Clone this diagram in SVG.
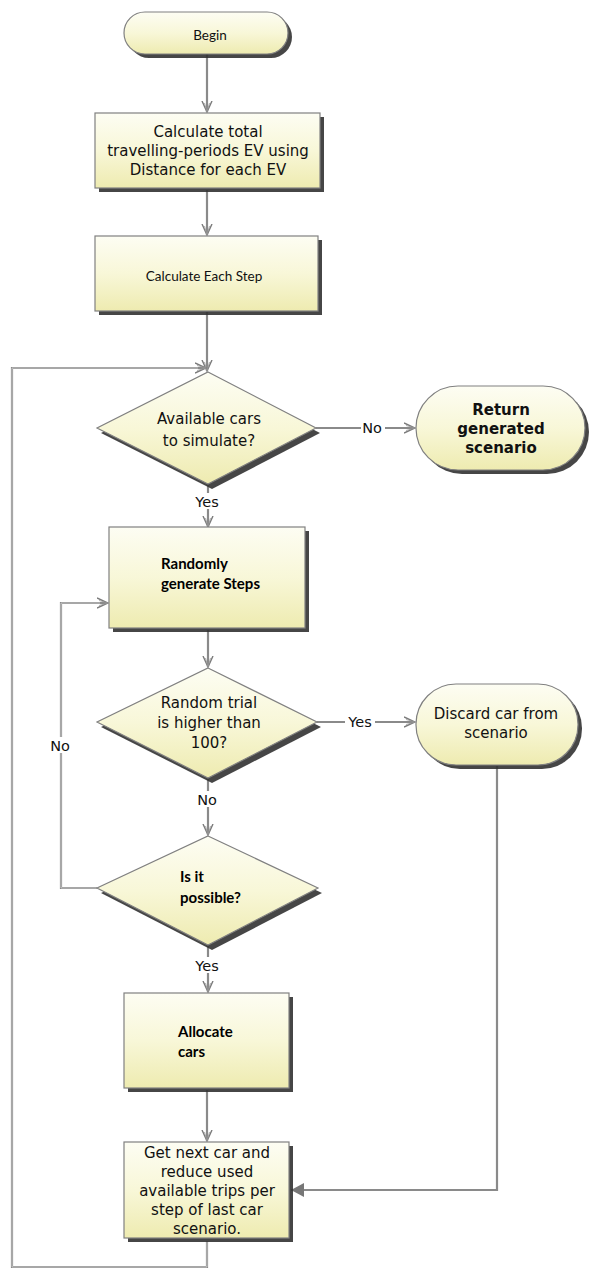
<svg xmlns="http://www.w3.org/2000/svg" width="597" height="1280" viewBox="0 0 597 1280">
<style>
.bg{fill:#ffffff}
.shape{fill:url(#fillg);stroke:#808080;stroke-width:1.2}
.shadow{fill:#333333;opacity:0.9;filter:url(#blur)}
.conn{fill:none;stroke:#8a8a8a;stroke-width:2.2}
.connw{fill:none;stroke:#dcdcdc;stroke-width:0.7}
.t{font-family:"DejaVu Sans",Verdana,sans-serif;font-size:15px;fill:#111;text-anchor:middle}
.tb{font-family:"DejaVu Sans",Verdana,sans-serif;font-size:15px;font-weight:bold;fill:#111;text-anchor:middle}
.c{font-family:Lato,"Open Sans",sans-serif;font-size:13.5px;fill:#111}
.cb{font-family:Lato,"Open Sans",sans-serif;font-size:15px;font-weight:bold;fill:#000}
.lbl{font-family:"DejaVu Sans",Verdana,sans-serif;font-size:14.5px;fill:#111;text-anchor:middle}
</style>
<defs>
<linearGradient id="fillg" x1="0" y1="0" x2="0" y2="1">
<stop offset="0" stop-color="#fdfdf3"/>
<stop offset="0.5" stop-color="#f8f7d8"/>
<stop offset="1" stop-color="#eeebb0"/>
</linearGradient>
<filter id="blur" x="-10%" y="-10%" width="120%" height="120%"><feGaussianBlur stdDeviation="0.6"/></filter>
<marker id="open" viewBox="0 0 12 12" refX="11" refY="6" markerWidth="12" markerHeight="12" markerUnits="userSpaceOnUse" orient="auto">
<path d="M0,1 L11,6 L0,11" fill="none" stroke="#7a7a7a" stroke-width="1.4"/>
<path d="M2,3.5 L11,6 L2,8.5" fill="none" stroke="#9a9a9a" stroke-width="0.8"/>
</marker>
<marker id="solid" viewBox="0 0 14 14" refX="13" refY="7" markerWidth="14" markerHeight="14" markerUnits="userSpaceOnUse" orient="auto">
<path d="M0,0 L13,7 L0,14 Z" fill="#777"/>
</marker>
</defs>
<rect class="bg" x="0" y="0" width="597" height="1280"/>

<g id="connectors">
<path class="conn" d="M207,54 V112" marker-end="url(#open)"/>
<path class="conn" d="M207,190 V235" marker-end="url(#open)"/>
<path class="conn" d="M207,312 V371" marker-end="url(#open)"/>
<path class="conn" d="M207,1241 V1267 H12 V368 H206" marker-end="url(#open)"/>
<path class="connw" d="M207,1241 V1267 H12 V368 H198"/>
<path class="conn" d="M316,428 H415" marker-end="url(#open)"/>
<path class="conn" d="M208,484 V527" marker-end="url(#open)"/>
<path class="conn" d="M208,630 V667" marker-end="url(#open)"/>
<path class="conn" d="M317,722 H415" marker-end="url(#open)"/>
<path class="conn" d="M208,778 V835" marker-end="url(#open)"/>
<path class="conn" d="M97,888 H61 V603 H108" marker-end="url(#open)"/>
<path class="connw" d="M97,888 H61 V603 H100"/>
<path class="conn" d="M208,945 V992" marker-end="url(#open)"/>
<path class="conn" d="M207,1090 V1141" marker-end="url(#open)"/>
<path class="conn" d="M497,766 V1190 H291" marker-end="url(#solid)"/>
<rect x="361" y="420" width="24" height="16" fill="#fff"/>
<text class="lbl" x="372" y="433">No</text>
<rect x="193" y="493" width="30" height="16" fill="#fff"/>
<text class="lbl" x="207" y="507">Yes</text>
<rect x="345" y="714" width="30" height="16" fill="#fff"/>
<text class="lbl" x="360" y="727">Yes</text>
<rect x="195" y="791" width="24" height="16" fill="#fff"/>
<text class="lbl" x="207" y="805">No</text>
<rect x="47" y="737" width="26" height="16" fill="#fff"/>
<text class="lbl" x="60" y="751">No</text>
<rect x="193" y="957" width="30" height="16" fill="#fff"/>
<text class="lbl" x="207" y="971">Yes</text>
</g>

<g id="begin">
<rect class="shadow" x="128" y="16" width="164" height="42" rx="21"/>
<rect class="shape" x="124" y="12" width="164" height="42" rx="21"/>
<text class="c" x="210" y="39.5" text-anchor="middle" font-size="13">Begin</text>
</g>

<g id="calc-total">
<rect class="shadow" x="99" y="117" width="225" height="75"/>
<rect class="shape" x="95" y="113" width="225" height="75"/>
<text class="t" x="208" y="137">Calculate total</text>
<text class="t" x="208" y="156">travelling-periods EV using</text>
<text class="t" x="208" y="175">Distance for each EV</text>
</g>

<g id="calc-step">
<rect class="shadow" x="99" y="240" width="223" height="75"/>
<rect class="shape" x="95" y="236" width="223" height="75"/>
<text class="c" x="204" y="280.5" text-anchor="middle">Calculate Each Step</text>
</g>

<g id="available">
<polygon class="shadow" points="212,377 320,433 212,489 101,433"/>
<polygon class="shape" points="208,372 316,428 208,484 97,428"/>
<text class="t" x="209" y="424">Available cars</text>
<text class="t" x="209" y="446">to simulate?</text>
</g>

<g id="return">
<rect class="shadow" x="420" y="390" width="169" height="84" rx="42"/>
<rect class="shape" x="416" y="386" width="169" height="84" rx="42"/>
<text class="tb" x="501" y="415">Return</text>
<text class="tb" x="501" y="434">generated</text>
<text class="tb" x="501" y="453">scenario</text>
</g>

<g id="randomly">
<rect class="shadow" x="113" y="531" width="196" height="101"/>
<rect class="shape" x="109" y="527" width="196" height="101"/>
<text class="cb" x="161" y="569">Randomly</text>
<text class="cb" x="161" y="589">generate Steps</text>
</g>

<g id="random-trial">
<polygon class="shadow" points="212,673 321,727 212,783 101,727"/>
<polygon class="shape" points="208,668 317,722 208,778 97,722"/>
<text class="t" x="209" y="708">Random trial</text>
<text class="t" x="209" y="728">is higher than</text>
<text class="t" x="209" y="748">100?</text>
</g>

<g id="discard">
<rect class="shadow" x="420" y="688" width="162" height="81" rx="40"/>
<rect class="shape" x="416" y="684" width="162" height="81" rx="40"/>
<text class="t" x="496" y="719">Discard car from</text>
<text class="t" x="496" y="738">scenario</text>
</g>

<g id="possible">
<polygon class="shadow" points="212,841 322,893 212,950 101,893"/>
<polygon class="shape" points="208,836 318,888 208,945 97,888"/>
<text class="cb" x="180" y="882">Is it</text>
<text class="cb" x="180" y="903">possible?</text>
</g>

<g id="allocate">
<rect class="shadow" x="128" y="997" width="165" height="95"/>
<rect class="shape" x="124" y="993" width="165" height="95"/>
<text class="cb" x="178" y="1037">Allocate</text>
<text class="cb" x="178" y="1057">cars</text>
</g>

<g id="next-car">
<rect class="shadow" x="128" y="1146" width="165" height="96"/>
<rect class="shape" x="124" y="1142" width="165" height="96"/>
<text class="t" x="207" y="1158">Get next car and</text>
<text class="t" x="207" y="1177">reduce used</text>
<text class="t" x="207" y="1196">available trips per</text>
<text class="t" x="207" y="1215">step of last car</text>
<text class="t" x="207" y="1234">scenario.</text>
</g>
</svg>
